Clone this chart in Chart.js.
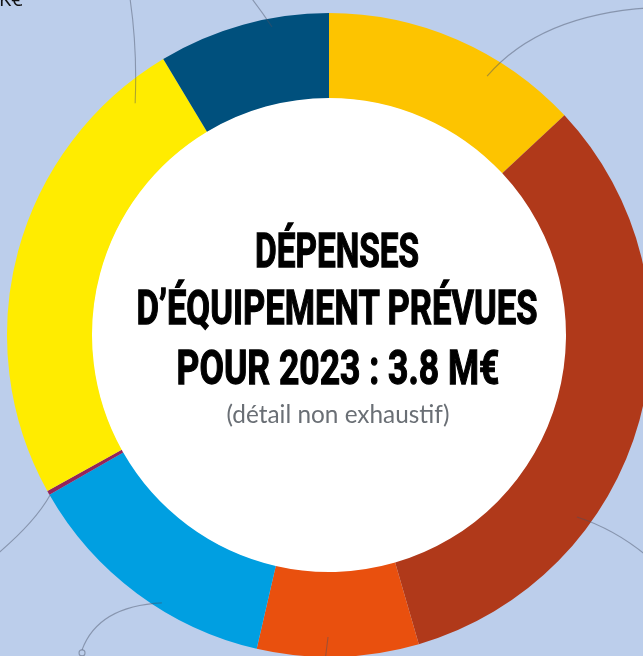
<!DOCTYPE html>
<html lang="fr">
<head>
<meta charset="utf-8">
<title>Dépenses d'équipement prévues pour 2023</title>
<script src="https://cdn.jsdelivr.net/npm/chart.js@4/dist/chart.umd.min.js"></script>
<style>
  html, body { margin: 0; padding: 0; }
  body {
    width: 643px; height: 656px; overflow: hidden; position: relative;
    background: #BCCEEB;
  }
  #chart { position: absolute; left: 0; top: 0; }
  .line {
    position: absolute; white-space: nowrap; display: inline-block;
    transform-origin: 50% 50%;
  }
  .title {
    font-family: Roboto, "Liberation Sans", sans-serif; font-weight: 700;
    font-size: 49px; line-height: 49px; color: #000;
    -webkit-text-stroke: 1.3px #000;
  }
  .sub {
    font-family: Lato, "Open Sans", sans-serif; font-weight: 400;
    font-size: 25px; line-height: 25px; color: #6a6f75;
  }
  .corner {
    font-family: "Open Sans", sans-serif; font-size: 20px; line-height: 20px;
    color: #111; left: -1px; top: -11px;
  }
</style>
</head>
<body>
<canvas id="chart" width="651" height="657"></canvas>
<div class="line corner">K€</div>
<div class="line title" data-w="164" style="left:337px; top:226px;">DÉPENSES</div>
<div class="line title" data-w="401" style="left:337px; top:283px;">D’ÉQUIPEMENT PRÉVUES</div>
<div class="line title" data-w="323" style="left:338px; top:343px;">POUR 2023 : 3.8 M€</div>
<div class="line sub" data-w="223" style="left:338px; top:401px;">(détail non exhaustif)</div>
<script>
// Data (k€), clockwise from 12 o'clock
const categories = [
  "Poste 1", "Poste 2", "Poste 3", "Poste 4", "Poste 5", "Poste 6", "Poste 7"
];
const values = [496, 1233, 308, 499, 8, 929, 327];
const colors = ["#FDC400", "#B0391A", "#E9500E", "#009FE1", "#94245A", "#FFEC00", "#00507D"];

// Condense title lines to the reference widths
document.querySelectorAll('.line[data-w]').forEach(el => {
  const w = el.getBoundingClientRect().width;
  const s = parseFloat(el.dataset.w) / w;
  el.style.transform = `translateX(-50%) scaleX(${s})`;
});

// Decorative leader lines (to labels outside the frame), in units of the outer radius
// relative to the donut centre: [start, control, end]
const leaders = [
  [[-0.602, -0.720], [-0.595, -0.891], [-0.618, -1.045]],
  [[-0.177, -0.957], [-0.208, -1.003], [-0.240, -1.045]],
  [[ 0.491, -0.804], [ 0.655, -0.994], [ 0.994, -1.016]],
  [[ 0.770,  0.565], [ 0.885,  0.602], [ 0.985,  0.684]],
  [[-0.866,  0.497], [-0.913,  0.581], [-1.030,  0.680]],
  [[-0.519,  0.832], [-0.717,  0.842], [-0.767,  0.978]],
  [[-0.003,  0.938], [-0.007,  0.970], [-0.012,  1.010]]
];

const holePlugin = {
  id: 'hole',
  beforeDatasetsDraw(chart) {
    const arc = chart.getDatasetMeta(0).data[0];
    if (!arc) return;
    const { x, y, innerRadius } = arc.getProps(['x', 'y', 'innerRadius'], true);
    const ctx = chart.ctx;
    ctx.save();
    ctx.fillStyle = '#FFFFFF';
    ctx.beginPath();
    ctx.arc(x, y, innerRadius + 0.5, 0, Math.PI * 2);
    ctx.fill();
    ctx.restore();
  },
  afterDatasetsDraw(chart) {
    const arc = chart.getDatasetMeta(0).data[0];
    if (!arc) return;
    const { x, y, outerRadius: R } = arc.getProps(['x', 'y', 'outerRadius'], true);
    const ctx = chart.ctx;
    ctx.save();
    ctx.strokeStyle = 'rgba(70, 80, 100, 0.45)';
    ctx.lineWidth = 1.1;
    leaders.forEach(([s, c, e], i) => {
      ctx.beginPath();
      ctx.moveTo(x + s[0] * R, y + s[1] * R);
      ctx.quadraticCurveTo(x + c[0] * R, y + c[1] * R, x + e[0] * R, y + e[1] * R);
      ctx.stroke();
      if (i === 5) {
        ctx.beginPath();
        ctx.arc(x + e[0] * R, y + e[1] * R + 3, 3, 0, Math.PI * 2);
        ctx.stroke();
      }
    });
    ctx.restore();
  }
};

new Chart(document.getElementById('chart'), {
  type: 'doughnut',
  data: {
    labels: categories,
    datasets: [{
      data: values,
      backgroundColor: colors,
      borderWidth: 0,
      hoverOffset: 0
    }]
  },
  options: {
    responsive: false,
    animation: false,
    cutout: '73.6%',
    rotation: 0,
    layout: { padding: { left: 7, top: 13, right: 0, bottom: 0 } },
    events: [],
    plugins: {
      legend: { display: false },
      tooltip: { enabled: false },
      title: { display: false }
    }
  },
  plugins: [holePlugin]
});
</script>
</body>
</html>
